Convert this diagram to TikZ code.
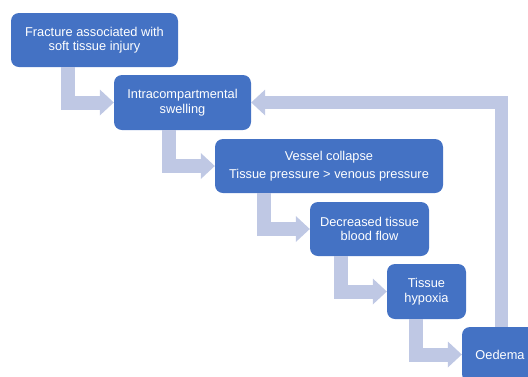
\documentclass[tikz,border=0pt]{standalone}
\usepackage{fontspec}
\setmainfont{Liberation Sans}
\usepackage{tikz}
\usetikzlibrary{positioning}
\usetikzlibrary{arrows.meta}
\usetikzlibrary{calc}
\definecolor{boxblue}{RGB}{68,114,196}
\definecolor{flowblue}{RGB}{191,200,228}

\begin{document}
\begin{tikzpicture}[x=1pt,y=-1pt]
	\useasboundingbox (0,0) rectangle (528,376);

	\begin{scope}[every node/.style={fill=boxblue,rounded corners=8pt,text=white,
	              align=center,inner sep=0pt,font=\fontsize{12.8}{14.5}\selectfont}]
	    \node[minimum width=167pt,minimum height=54pt] (frac) at (94.5,40) {Fracture associated with\\soft tissue injury};
	    \node[minimum width=137pt,minimum height=55pt] (swell) at (182.5,102.5) {Intracompartmental\\swelling};
	    \node[minimum width=228pt,minimum height=54pt] (vessel) at (329,166) {Vessel collapse\\[3.5pt]Tissue pressure > venous pressure};
	    \node[minimum width=119pt,minimum height=54pt] (flow) at (369.5,229) {Decreased tissue\\blood flow};
	    \node[minimum width=79pt,minimum height=55pt] (hypox) at (426.5,291.5) {Tissue\\hypoxia};
	    \node[minimum width=76pt,minimum height=55pt] (oedema) at (500,354.5) {Oedema};
	\end{scope}

	\begin{scope}[>={Triangle[width=26pt,length=14pt,line width=0pt]},
	              flowarrow/.style={draw=flowblue,line width=14pt,->}]
	    \coordinate (k1) at ([xshift=-46pt]swell.west);
	    \coordinate (k2) at ([xshift=-46pt]vessel.west);
	    \coordinate (k3) at ([xshift=-46pt]flow.west);
	    \coordinate (k4) at ([xshift=-46pt]hypox.west);
	    \coordinate (k5) at ([xshift=-46pt]oedema.west);
	    \coordinate (back) at ([xshift=39.5pt]oedema.west);
	    \draw[flowarrow] (frac.south -| k1) |- (swell.west);
	    \draw[flowarrow] (swell.south -| k2) |- (vessel.west);
	    \draw[flowarrow] (vessel.south -| k3) |- (flow.west);
	    \draw[flowarrow] (flow.south -| k4) |- (hypox.west);
	    \draw[flowarrow] (hypox.south -| k5) |- (oedema.west);
	    % feedback loop
	    \draw[flowarrow,line width=13pt] (oedema.north -| back) |- (swell.east);
	\end{scope}
\end{tikzpicture}
\end{document}
